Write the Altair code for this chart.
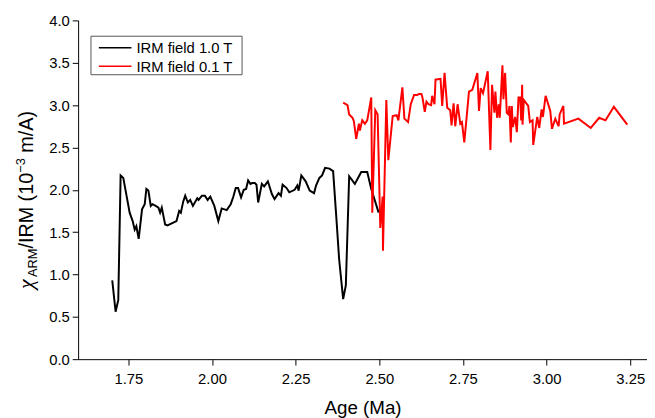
import altair as alt
import pandas as pd

# ---- data ----
series_names = ["IRM field 1.0 T", "IRM field 0.1 T"]
series_colors = ["#000000", "#ff0000"]

black_age = [1.702, 1.712, 1.720, 1.727, 1.735, 1.754, 1.763, 1.769, 1.774, 1.781,
             1.791, 1.799, 1.804, 1.810, 1.817, 1.822, 1.832, 1.840, 1.845, 1.850,
             1.860, 1.867, 1.894, 1.902, 1.907, 1.914, 1.920, 1.928, 1.935, 1.943,
             1.956, 1.960, 1.970, 1.979, 1.987, 1.995, 2.007, 2.019, 2.029, 2.044,
             2.056, 2.064, 2.071, 2.078, 2.087, 2.095, 2.102, 2.108, 2.115, 2.120,
             2.128, 2.133, 2.138, 2.149, 2.156, 2.167, 2.179, 2.187, 2.199, 2.206,
             2.211, 2.223, 2.231, 2.247, 2.255, 2.259, 2.267, 2.280, 2.292, 2.305,
             2.311, 2.321, 2.329, 2.338, 2.351, 2.362, 2.372, 2.380, 2.392, 2.400,
             2.410, 2.427, 2.446, 2.464, 2.476, 2.498]
black_val = [0.93, 0.56, 0.70, 2.17, 2.14, 1.73, 1.63, 1.53, 1.57, 1.42,
             1.77, 1.83, 2.01, 1.99, 1.81, 1.83, 1.81, 1.79, 1.73, 1.79,
             1.59, 1.58, 1.63, 1.75, 1.73, 1.86, 1.93, 1.85, 1.88, 1.81,
             1.90, 1.88, 1.93, 1.93, 1.88, 1.92, 1.81, 1.63, 1.78, 1.76,
             1.83, 1.92, 2.02, 2.02, 1.91, 2.00, 2.01, 2.11, 2.07, 2.08,
             2.08, 2.06, 1.85, 2.07, 2.04, 2.10, 1.95, 1.89, 1.96, 1.93,
             2.06, 2.02, 1.97, 2.00, 2.05, 1.99, 2.17, 2.10, 1.99, 1.96,
             2.05, 2.14, 2.17, 2.26, 2.25, 2.22, 1.65, 1.18, 0.71, 0.87,
             2.16, 2.07, 2.21, 2.21, 2.01, 1.73]

red_age = [2.392, 2.405, 2.410, 2.420, 2.424, 2.431, 2.439, 2.442, 2.449, 2.457,
           2.464, 2.476, 2.479, 2.488, 2.495, 2.503, 2.510, 2.511, 2.521, 2.527,
           2.540, 2.552, 2.557, 2.569, 2.575, 2.586, 2.594, 2.604, 2.613, 2.619,
           2.626, 2.629, 2.636, 2.641, 2.647, 2.655, 2.658, 2.665, 2.668, 2.683,
           2.688, 2.695, 2.703, 2.712, 2.716, 2.722, 2.727, 2.734, 2.742, 2.747,
           2.754, 2.768, 2.778, 2.793, 2.798, 2.803, 2.810, 2.824, 2.832, 2.837,
           2.844, 2.847, 2.852, 2.857, 2.860, 2.868, 2.871, 2.876, 2.881, 2.886,
           2.889, 2.893, 2.896, 2.899, 2.906, 2.911, 2.916, 2.921, 2.924, 2.927,
           2.928, 2.932, 2.945, 2.950, 2.958, 2.960, 2.972, 2.978, 2.985, 2.989,
           2.997, 3.011, 3.016, 3.026, 3.036, 3.039, 3.050, 3.052, 3.095, 3.132,
           3.157, 3.176, 3.201, 3.241]
red_val = [3.03, 3.00, 2.89, 2.85, 2.81, 2.60, 2.78, 2.70, 2.82, 2.78,
           2.82, 3.09, 1.73, 2.94, 2.89, 1.55, 1.92, 1.28, 3.06, 2.35,
           2.87, 2.88, 2.82, 3.21, 2.84, 2.80, 3.01, 3.12, 3.12, 3.13,
           3.13, 3.09, 2.92, 3.04, 3.01, 3.00, 3.11, 3.01, 3.30, 3.31,
           2.99, 3.38, 2.97, 2.94, 2.76, 3.02, 2.75, 3.01, 2.78, 2.80,
           2.56, 3.16, 3.18, 3.38, 2.93, 3.20, 3.14, 3.40, 2.47, 3.24,
           2.91, 3.16, 2.85, 3.01, 2.85, 3.47, 3.07, 3.38, 2.91, 2.89,
           2.99, 2.56, 2.99, 2.74, 2.86, 2.68, 3.09, 3.09, 2.82, 3.24,
           2.77, 3.06, 2.99, 2.80, 2.82, 2.53, 2.86, 2.73, 2.95, 2.86,
           3.11, 2.93, 2.72, 2.84, 2.75, 2.89, 2.99, 2.78, 2.84, 2.73,
           2.85, 2.82, 2.98, 2.77]

x_ticks = [1.75, 2.00, 2.25, 2.50, 2.75, 3.00, 3.25]
y_ticks = [0.0, 0.5, 1.0, 1.5, 2.0, 2.5, 3.0, 3.5, 4.0]
x_title = "Age (Ma)"

df = pd.concat([
    pd.DataFrame({"age": black_age, "val": black_val, "series": series_names[0]}),
    pd.DataFrame({"age": red_age, "val": red_val, "series": series_names[1]}),
], ignore_index=True)

FONT = "Liberation Sans"
W, H = 576, 343

lines = alt.Chart(df).mark_line(strokeWidth=2, clip=True).encode(
    x=alt.X("age:Q",
            scale=alt.Scale(domain=[1.6, 3.3], nice=False, zero=False),
            axis=alt.Axis(values=x_ticks, format=".2f", title=x_title,
                          titlePadding=12, labelPadding=7)),
    y=alt.Y("val:Q",
            scale=alt.Scale(domain=[0, 4], nice=False, zero=False),
            axis=alt.Axis(values=y_ticks, format=".1f", title=None, labelPadding=3)),
    color=alt.Color("series:N",
                    scale=alt.Scale(domain=series_names, range=series_colors),
                    legend=None),
)

one = pd.DataFrame({"k": [0]})

# ---- legend box drawn by hand (compact, like the reference) ----
legend_layers = [
    alt.Chart(one).mark_rect(fill="#ffffff", stroke="#555555", strokeWidth=1).encode(
        x=alt.value(13), x2=alt.value(166), y=alt.value(16), y2=alt.value(55)),
]
for i, (name, col) in enumerate(zip(series_names, series_colors)):
    ry = 27.7 + i * 18.6
    legend_layers.append(
        alt.Chart(one).mark_rule(stroke=col, strokeWidth=1.5).encode(
            x=alt.value(21), x2=alt.value(54), y=alt.value(ry)))
    legend_layers.append(
        alt.Chart(one).mark_text(align="left", baseline="middle", font=FONT,
                                 fontSize=15, color="#000000").encode(
            x=alt.value(59), y=alt.value(ry + 0.5), text=alt.value(name)))

# ---- y-axis title built from pieces (sub/superscripts) ----
CW = {' ': 0.278, '/': 0.278, 'I': 0.278, 'R': 0.722, 'M': 0.833, '(': 0.333,
      ')': 0.333, '1': 0.556, '0': 0.556, 'm': 0.833, 'A': 0.667, '3': 0.556,
      '\u2212': 0.584, '\u03c7': 0.55}
# text, font size, baseline shift, gap before, font, style
pieces = [("\u03c7", 22, 0, 0.0, "Liberation Serif", "italic"),
          ("ARM", 13, 4, 0.0, FONT, "normal"),
          ("/IRM (10", 20, 0, 0.0, FONT, "normal"),
          ("\u22123", 13, -8, 0.0, FONT, "normal"),
          ("m/A)", 20, 0, 0.278 * 20, FONT, "normal")]
base_x = -46
cur_y = 272.0
title_layers = []
for txt, fs, dx, gap, fnt, sty in pieces:
    cur_y -= gap
    title_layers.append(
        alt.Chart(one).mark_text(angle=270, align="left", baseline="alphabetic",
                                 font=fnt, fontStyle=sty, fontSize=fs,
                                 color="#000000").encode(
            x=alt.value(base_x + dx), y=alt.value(cur_y), text=alt.value(txt))
    )
    cur_y -= sum(CW.get(c, 0.55) for c in txt) * fs

chart = alt.layer(lines, *legend_layers, *title_layers).properties(
    width=W, height=H,
    autosize=alt.AutoSizeParams(type="none"),
    padding={"left": 71, "top": 10, "right": 0, "bottom": 57},
).configure_view(strokeWidth=0).configure_axis(
    grid=False, domainColor="#000000", tickColor="#000000", labelColor="#000000",
    titleColor="#000000", labelFont=FONT, titleFont=FONT, labelFontSize=15,
    titleFontSize=19, titleFontWeight="normal", tickSize=6,
    domainWidth=1, tickWidth=1
)

chart.save("out.html", embed_options={"renderer": "svg", "actions": False})
